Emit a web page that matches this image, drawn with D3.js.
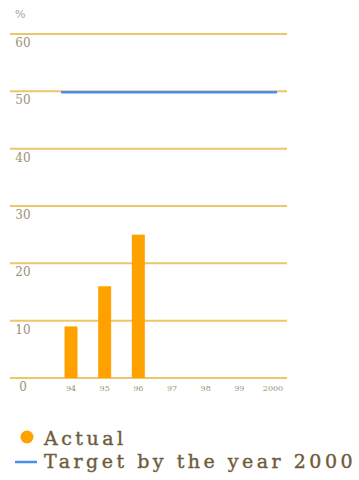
<!DOCTYPE html>
<html>
<head>
<meta charset="utf-8">
<script src="https://cdn.jsdelivr.net/npm/d3@7"></script>
<style>
  body { margin: 0; background: #fff; }
  svg { display: block; }
  text { font-family: "DejaVu Serif", "Liberation Serif", serif; }
</style>
</head>
<body>
<script>
var years = ['94', '95', '96', '97', '98', '99', '2000'];
var actualYears = ['94', '95', '96'];
var actualValues = [9, 16, 25];
var targetValue = 50;
var yTicks = [0, 10, 20, 30, 40, 50, 60];

var svg = d3.select('body').append('svg')
    .attr('width', 359)
    .attr('height', 480);

var y = d3.scaleLinear().domain([0, 60]).range([378, 34]);
var x = d3.scalePoint().domain(years).range([71, 273]);

// gridlines
svg.selectAll('line.grid')
    .data(yTicks)
    .enter().append('line')
    .attr('class', 'grid')
    .attr('x1', 10)
    .attr('x2', 287)
    .attr('y1', function(d){ return y(d); })
    .attr('y2', function(d){ return y(d); })
    .attr('stroke', '#ecc66a')
    .attr('stroke-width', 2);

// y labels under each line
svg.selectAll('text.ylab')
    .data(yTicks)
    .enter().append('text')
    .attr('class', 'ylab')
    .attr('x', 23)
    .attr('y', function(d){ return y(d) + 13; })
    .attr('text-anchor', 'middle')
    .attr('font-size', 12)
    .attr('fill', '#9a9276')
    .text(function(d){ return d; });

svg.append('text')
    .attr('x', 15).attr('y', 18)
    .attr('font-size', 11)
    .attr('fill', '#a8a090')
    .text('%');

// x labels
svg.selectAll('text.xlab')
    .data(years)
    .enter().append('text')
    .attr('class', 'xlab')
    .attr('x', function(d){ return x(d); })
    .attr('y', 391)
    .attr('text-anchor', 'middle')
    .attr('font-size', 8)
    .attr('fill', '#9a9276')
    .text(function(d){ return d; });

// bars
svg.selectAll('rect.bar')
    .data(actualValues)
    .enter().append('rect')
    .attr('class', 'bar')
    .attr('x', function(d, i){ return x(actualYears[i]) - 6.5; })
    .attr('width', 13)
    .attr('y', function(d){ return y(d); })
    .attr('height', function(d){ return y(0) - y(d); })
    .attr('fill', '#ffa200');

// target line
svg.append('line')
    .attr('x1', 61)
    .attr('x2', 277)
    .attr('y1', y(targetValue) + 1)
    .attr('y2', y(targetValue) + 1)
    .attr('stroke', '#4a8cf0')
    .attr('stroke-width', 2.5);

// legend
svg.append('circle')
    .attr('cx', 27).attr('cy', 437).attr('r', 6.5)
    .attr('fill', '#ffa200');
svg.append('line')
    .attr('x1', 15).attr('x2', 37)
    .attr('y1', 462).attr('y2', 462)
    .attr('stroke', '#4a8cf0')
    .attr('stroke-width', 2.5);

var legendText = ['Actual', 'Target by the year 2000'];
svg.selectAll('text.leg')
    .data(legendText)
    .enter().append('text')
    .attr('class', 'leg')
    .attr('x', 44)
    .attr('y', function(d, i){ return 445 + i * 23; })
    .attr('font-size', 19)
    .attr('letter-spacing', 3.5)
    .attr('fill', '#6e5c3c')
    .attr('stroke', '#6e5c3c')
    .attr('stroke-width', 0.4)
    .text(function(d){ return d; });
</script>
</body>
</html>
